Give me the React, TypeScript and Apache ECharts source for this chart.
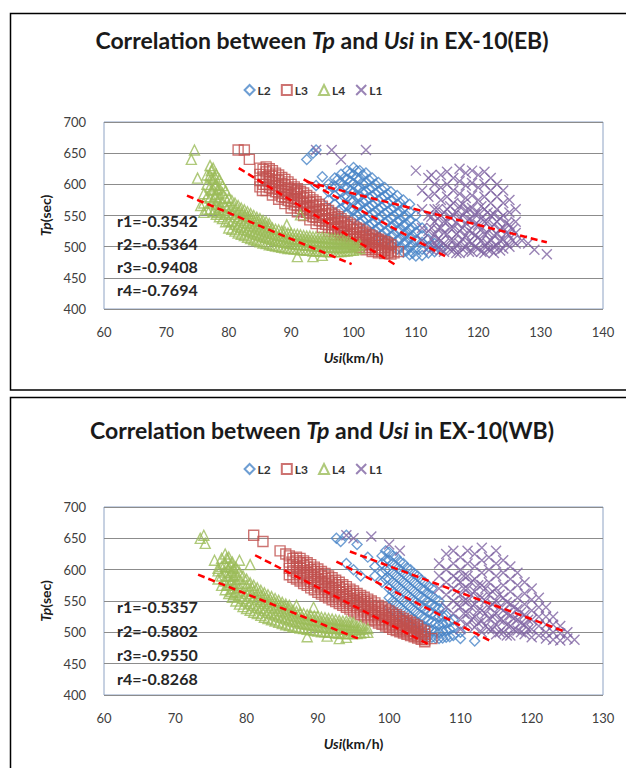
import React, { useEffect, useRef } from "react";
import * as echarts from "echarts";

const FONT = "Lato, 'Open Sans', sans-serif";

const seriesNames = ["L2", "L3", "L4", "L1"];
const yTicks = [400, 450, 500, 550, 600, 650, 700];
const xTicksEB = [60, 70, 80, 90, 100, 110, 120, 130, 140];
const xTicksWB = [60, 70, 80, 90, 100, 110, 120, 130];

const rLabelsEB = ["r1=-0.3542", "r2=-0.5364", "r3=-0.9408", "r4=-0.7694"];
const rLabelsWB = ["r1=-0.5357", "r2=-0.5802", "r3=-0.9550", "r4=-0.8268"];

// Each row: [Usi, Tp, Tp, ...] (points sharing one Usi value)
const ebL2 = [
  [92.5, 640], [93.5, 650], [94, 655, 598], [95, 612], [96.5, 596], [97.5, 608],
  [96, 575, 588, 600],
  [97, 568, 582, 596, 610],
  [98, 560, 574, 588, 602, 616],
  [98.5, 565, 580, 595, 610],
  [99, 552, 566, 580, 594, 608, 622],
  [99.5, 560, 575, 590, 605, 618],
  [100, 545, 559, 573, 587, 601, 615, 627],
  [100.5, 550, 565, 580, 595, 610, 622],
  [101, 538, 552, 566, 580, 594, 608, 622],
  [101.5, 542, 557, 572, 587, 601, 615],
  [102, 530, 545, 560, 574, 588, 602, 618],
  [102.5, 533, 548, 563, 578, 592, 607],
  [103, 522, 537, 552, 567, 581, 595, 610],
  [103.5, 525, 540, 555, 570, 585, 600],
  [104, 515, 530, 545, 560, 574, 588, 603],
  [104.5, 518, 533, 548, 563, 578, 592],
  [105, 508, 523, 538, 553, 567, 581, 595],
  [105.5, 511, 526, 541, 556, 570, 584],
  [106, 502, 516, 531, 546, 560, 574, 588],
  [106.5, 504, 519, 534, 549, 563, 577],
  [107, 496, 510, 525, 540, 554, 568, 582],
  [107.5, 498, 512, 527, 542, 556, 570],
  [108, 491, 505, 519, 534, 548, 562, 575],
  [108.5, 493, 507, 521, 536, 550],
  [109, 487, 500, 514, 528, 542, 556, 568],
  [109.5, 490, 503, 517, 531],
  [110, 485, 497, 510, 523, 536, 550],
  [111, 486, 496, 507, 518, 530],
  [112, 490, 500, 512],
  [113, 492, 505],
  [114, 495],
];
const ebL3 = [
  [81.5, 655], [82.5, 655], [83.3, 640],
  [85, 596, 606, 616, 626],
  [85.4, 590],
  [85.5, 600, 612, 624],
  [86, 590, 600, 610, 620, 628],
  [86.5, 595, 605, 615, 625],
  [87, 583, 593, 603, 613, 622],
  [87.5, 588, 598, 608, 618],
  [88, 576, 586, 596, 606, 615],
  [88.5, 580, 591, 601, 611],
  [89, 569, 579, 589, 599, 608],
  [89.5, 574, 584, 594, 604],
  [90, 562, 572, 582, 592, 600],
  [90.5, 567, 577, 587, 596],
  [90.8, 590],
  [91, 556, 566, 576, 585, 593],
  [91.5, 561, 571, 580, 589],
  [92, 550, 560, 569, 578, 586],
  [92.5, 555, 564, 573, 582],
  [93, 543, 553, 562, 571, 579],
  [93.5, 548, 557, 566, 575],
  [94, 537, 547, 556, 565, 572],
  [94.5, 542, 551, 560, 568],
  [95, 531, 541, 550, 558, 565],
  [95.5, 536, 545, 553, 561],
  [96, 525, 535, 543, 551, 558],
  [96.5, 530, 539, 547, 554],
  [97, 519, 528, 537, 544, 551],
  [97.5, 524, 533, 540, 548],
  [98, 513, 522, 531, 538, 545],
  [98.5, 518, 527, 534, 541],
  [99, 508, 517, 525, 532, 539],
  [99.5, 512, 521, 528, 536],
  [100, 503, 512, 520, 527, 533],
  [100.5, 507, 516, 523, 530],
  [101, 499, 507, 515, 522, 528],
  [101.5, 503, 511, 518, 525],
  [102, 495, 503, 510, 516, 522],
  [102.5, 498, 506, 513, 519],
  [103, 492, 499, 506, 512, 517],
  [103.5, 495, 502, 509, 514],
  [104, 490, 496, 502, 508, 512],
  [104.5, 492, 498, 504, 510],
  [105, 489, 494, 499, 504, 508],
  [105.5, 490, 496, 501, 506],
  [106, 488, 493, 498, 503],
  [106.5, 490], [107.2, 492],
];
const ebL4 = [
  [74, 640], [74.5, 655], [75, 610], [75.5, 566],
  [76, 555, 570, 585],
  [76.5, 560, 580, 600, 615],
  [77, 560, 578, 596, 614, 630],
  [77.2, 570, 590, 610, 622],
  [77.5, 556, 574, 592, 610, 626],
  [77.8, 560, 580, 598, 612],
  [78, 552, 568, 584, 600, 616],
  [78.2, 555, 575, 592],
  [78.5, 548, 560, 563, 578, 594, 608],
  [79, 545, 558, 572, 586, 598],
  [79.5, 540, 552, 565, 578, 590],
  [80, 530, 542, 555, 567, 578],
  [80.5, 528, 540, 552, 564, 574],
  [81, 525, 536, 548, 560, 570],
  [81.5, 522, 533, 545, 556, 566],
  [82, 520, 531, 542, 553, 562],
  [82.5, 518, 528, 539, 550, 559],
  [83, 515, 526, 537, 548, 556],
  [83.5, 513, 524, 534, 545, 553],
  [84, 511, 522, 532, 542, 550],
  [84.5, 510, 520, 530, 540, 547],
  [85, 508, 518, 528, 537, 545],
  [85.5, 506, 516, 526, 535, 542],
  [86, 505, 515, 524, 533, 540],
  [86.5, 503, 513, 522, 531, 537],
  [87, 502, 512, 521, 530],
  [87.5, 501, 510, 519, 528],
  [88, 500, 509, 518, 527],
  [88.5, 499, 508, 517, 525],
  [89, 498, 507, 516, 524],
  [89.3, 535],
  [89.5, 497, 506, 514, 522],
  [90, 497, 505, 513, 521],
  [90.5, 496, 504, 512, 520],
  [91, 484, 496, 504, 512, 520],
  [91.5, 495, 503, 511, 519, 551],
  [92, 495, 503, 511, 518],
  [92.5, 494, 502, 510, 517],
  [93, 494, 502, 510, 517],
  [93.5, 484, 493, 501, 509, 516],
  [94, 493, 501, 509, 516],
  [94.5, 493, 500, 508, 515],
  [95, 486, 493, 500, 508, 515],
  [95.5, 492, 499, 507, 514],
  [96, 492, 499, 507, 514],
  [96.5, 492, 499, 506, 513],
  [97, 492, 499, 506, 513],
  [97.5, 492, 498, 505, 512],
  [98, 492, 498, 505, 512],
  [98.5, 493, 499, 505, 511],
  [99, 493, 499, 505, 511],
  [99.5, 494, 500, 506],
  [100, 494, 500, 506],
  [100.5, 496, 502],
  [101, 497, 503],
];
const ebL1 = [
  [94, 655], [96.5, 655], [98, 640], [102, 655], [110, 622], [112.5, 615],
  [111, 590, 560, 530, 510],
  [112, 610, 580, 550, 525, 500],
  [112.5, 495, 512, 530, 548],
  [113, 600, 585, 560, 540, 520, 505],
  [113.5, 498, 512, 528, 545, 560],
  [114, 615, 595, 575, 550, 530, 510, 495],
  [114.5, 492, 505, 522, 540, 555],
  [115, 620, 600, 580, 560, 540, 520, 500],
  [115.5, 495, 510, 530, 548, 565],
  [116, 610, 590, 570, 550, 530, 510, 495],
  [116.5, 490, 502, 520, 538, 555],
  [117, 625, 605, 585, 565, 545, 525, 505, 490],
  [117.5, 496, 512, 530, 550, 568],
  [118, 618, 598, 578, 558, 538, 518, 500],
  [118.5, 492, 508, 526, 544, 560],
  [119, 622, 602, 582, 562, 542, 522, 505, 492],
  [119.5, 500, 518, 535, 552],
  [120, 615, 595, 575, 555, 535, 515, 497],
  [120.5, 492, 510, 528, 546, 565],
  [121, 620, 600, 580, 560, 540, 520, 502, 490],
  [121.5, 496, 505, 522, 540, 555],
  [122, 610, 590, 570, 550, 530, 510, 495],
  [122.5, 490, 500, 518, 535, 552],
  [123, 600, 580, 560, 540, 520, 502],
  [123.5, 494, 510, 528, 545],
  [124, 590, 570, 550, 530, 512, 497],
  [124.5, 505, 522, 538],
  [125, 575, 555, 535, 518, 500],
  [125.5, 510, 528],
  [126, 560, 540, 522, 505],
  [127, 510], [128, 505], [129, 495], [131, 488],
];

const wbL2 = [
  [92.6, 650], [93.2, 645], [94, 655, 610], [95.5, 640], [95, 600], [96, 590], [97, 620], [99.5, 630],
  [98, 590, 605],
  [99, 580, 595, 610, 622],
  [99.5, 585, 600, 615],
  [100, 540, 555, 570, 585, 600, 615, 628],
  [100.5, 535, 550, 565, 580, 595, 610, 622],
  [101, 530, 545, 560, 575, 590, 605, 620],
  [101.5, 525, 540, 555, 570, 585, 600, 613],
  [102, 520, 535, 550, 565, 580, 595, 610],
  [102.5, 515, 530, 545, 560, 575, 590, 603],
  [103, 510, 525, 540, 555, 570, 585, 600],
  [103.5, 505, 520, 535, 550, 565, 580, 594],
  [104, 500, 515, 530, 545, 560, 575, 590],
  [104.5, 497, 511, 526, 541, 556, 570, 584],
  [105, 495, 508, 522, 537, 552, 567, 580],
  [105.5, 493, 505, 519, 533, 548, 562, 574],
  [106, 492, 503, 516, 530, 545, 558, 570],
  [106.5, 491, 501, 514, 527, 541, 553],
  [107, 490, 500, 512, 525, 538, 550],
  [107.5, 491, 502, 514, 526, 538],
  [108, 492, 503, 515, 527],
  [108.5, 493, 505, 517],
  [109, 495, 508, 520],
  [110, 490, 500],
  [112, 486],
];
const wbL3 = [
  [81, 655], [82.3, 645], [84.7, 630], [85.5, 625],
  [86, 592, 602, 612, 622],
  [86.5, 588, 598, 608, 618],
  [87, 585, 595, 605, 614, 620],
  [87.5, 582, 592, 602, 611, 618],
  [88, 578, 588, 598, 607, 614],
  [88.5, 575, 585, 595, 604, 611],
  [89, 571, 581, 591, 600, 608],
  [89.5, 568, 578, 588, 597, 604],
  [90, 564, 574, 584, 593, 601],
  [90.5, 561, 571, 580, 590, 597],
  [91, 558, 568, 577, 586, 594],
  [91.5, 555, 564, 573, 582, 590],
  [92, 552, 561, 570, 579, 587],
  [92.5, 549, 558, 567, 576, 583],
  [93, 546, 555, 564, 572, 580],
  [93.5, 543, 552, 560, 569, 576],
  [94, 540, 549, 557, 565, 573],
  [94.5, 537, 546, 554, 562, 569],
  [95, 534, 543, 551, 559, 566],
  [95.5, 531, 540, 548, 555, 562],
  [96, 528, 537, 545, 552, 559],
  [96.5, 526, 534, 542, 549, 556],
  [97, 523, 531, 539, 546, 553],
  [97.5, 520, 528, 536, 543, 550],
  [98, 518, 526, 533, 540, 547],
  [98.5, 515, 523, 530, 537, 543],
  [99, 513, 520, 527, 534, 540],
  [99.5, 510, 518, 524, 531, 537],
  [100, 508, 515, 522, 528, 534],
  [100.5, 505, 512, 519, 525, 531],
  [101, 503, 510, 516, 522, 528],
  [101.5, 501, 507, 513, 519, 525],
  [102, 499, 505, 511, 517, 522],
  [102.5, 497, 503, 508, 514, 519],
  [103, 495, 501, 506, 511, 516],
  [103.5, 493, 498, 503, 508, 513],
  [104, 491, 496, 501, 506, 510],
  [104.5, 489, 494, 499, 504],
  [105, 485, 488, 493, 497, 502],
  [106, 490],
];
const wbL4 = [
  [73.5, 650], [74, 655], [74.2, 642], [75.5, 615], [76, 602],
  [76, 585, 598],
  [76.5, 575, 590, 605, 618],
  [77, 568, 582, 596, 610, 625],
  [77.2, 575, 590, 605, 618],
  [77.5, 562, 576, 590, 604, 620],
  [77.8, 565, 580, 595, 608],
  [78, 556, 570, 584, 598, 612],
  [78.2, 560, 575, 590, 602],
  [78.5, 550, 564, 578, 592, 604],
  [79, 545, 558, 572, 585, 596, 615],
  [79.5, 541, 554, 566, 578, 590],
  [80, 538, 550, 562, 574, 585],
  [80.5, 535, 546, 558, 569, 579, 608],
  [81, 532, 543, 555, 566, 575],
  [81.5, 530, 540, 552, 562, 571],
  [82, 527, 538, 549, 559, 567],
  [82.5, 524, 535, 546, 555, 563],
  [83, 522, 532, 543, 552, 560],
  [83.5, 520, 530, 540, 549, 557],
  [84, 518, 528, 538, 547, 554],
  [84.5, 516, 526, 535, 544, 551],
  [85, 514, 524, 533, 542, 548],
  [85.5, 512, 522, 531, 539, 545],
  [86, 511, 520, 529, 537, 543],
  [86.5, 509, 518, 527, 535],
  [87, 508, 517, 525, 533, 543],
  [87.5, 507, 515, 523, 531],
  [88, 506, 514, 522, 530],
  [88.5, 493, 505, 513, 521, 528],
  [89, 504, 512, 520, 527],
  [89.4, 540],
  [89.5, 503, 511, 519, 526],
  [90, 502, 510, 518, 525],
  [90.5, 501, 509, 517, 524],
  [91, 501, 508, 516, 523],
  [91.3, 494],
  [91.5, 500, 507, 515, 522],
  [92, 500, 507, 514, 521],
  [92.5, 499, 506, 513, 520],
  [93, 490, 499, 506, 513, 519],
  [93.5, 498, 505, 512, 518],
  [94, 492, 498, 505, 512, 518],
  [94.5, 498, 504, 511, 517],
  [95, 498, 504, 511, 516],
  [95.5, 498, 504, 510],
  [96, 499, 505, 511],
  [96.5, 500, 506],
  [97, 500, 506],
];
const wbL1 = [
  [94, 655], [95, 650], [97.5, 653], [100, 640], [101.5, 630],
  [107, 610, 590, 570],
  [108, 625, 600, 580, 560, 540],
  [109, 630, 610, 590, 570, 550, 530],
  [109.5, 545, 565, 585],
  [110, 620, 600, 580, 560, 540, 520, 505],
  [110.5, 530, 550, 570, 590],
  [111, 630, 610, 590, 570, 550, 530, 512],
  [111.5, 520, 540, 560, 580],
  [112, 625, 605, 585, 565, 545, 525, 508],
  [112.5, 515, 535, 555, 575],
  [113, 635, 615, 595, 575, 555, 535, 518, 500],
  [113.5, 510, 530, 550, 570],
  [114, 620, 600, 580, 560, 540, 522, 505],
  [114.5, 505, 525, 545, 565],
  [115, 630, 610, 590, 570, 550, 530, 512, 497],
  [115.5, 500, 520, 540, 560],
  [116, 615, 595, 575, 555, 535, 518, 500],
  [116.5, 495, 512, 530, 548],
  [117, 605, 585, 565, 545, 527, 510, 495],
  [117.5, 505, 522, 540],
  [118, 595, 575, 555, 537, 520, 503],
  [118.5, 500, 515, 532],
  [119, 580, 562, 545, 528, 512, 497],
  [119.5, 505, 520],
  [120, 570, 552, 535, 520, 505, 492],
  [121, 555, 540, 525, 510, 495],
  [122, 540, 525, 512, 500, 490],
  [123, 525, 512, 500, 488],
  [124, 510, 498, 487],
  [125, 500, 490],
  [126, 488],
];

// Linear trend lines (start, end)
const ebTrendL2 = [[92, 608], [115, 483]];
const ebTrendL3 = [[81.6, 626], [106.7, 471]];
const ebTrendL4 = [[73.3, 582], [99.7, 472]];
const ebTrendL1 = [[92.5, 604], [131, 507]];
const wbTrendL2 = [[92.6, 613], [114.4, 485]];
const wbTrendL3 = [[81.2, 623], [105.5, 481]];
const wbTrendL4 = [[73.2, 592], [96.1, 488]];
const wbTrendL1 = [[94.5, 629], [124.7, 501]];

const COLORS: Record<string, string> = { L2: "#4A86C8", L3: "#C0504D", L4: "#9BBB59", L1: "#8064A2" };
const SYMBOLS: Record<string, string> = {
  L2: "diamond",
  L3: "rect",
  L4: "triangle",
  L1: "path://M0,0L10,10M10,0L0,10",
};

function expand(cols: number[][]) {
  return cols.flatMap(([x, ...ys]) => ys.map((y) => [x, y]));
}

function scatter(name: string, cols: number[][], idx: number) {
  return {
    type: "scatter",
    name,
    xAxisIndex: idx,
    yAxisIndex: idx,
    data: expand(cols),
    symbol: SYMBOLS[name],
    symbolSize: 10,
    itemStyle: { color: "rgba(0,0,0,0)", borderColor: COLORS[name], borderWidth: 1.4 },
    silent: true,
    z: 2,
  };
}

function trend(data: number[][], idx: number) {
  return {
    type: "line",
    name: "trend",
    xAxisIndex: idx,
    yAxisIndex: idx,
    data,
    symbol: "none",
    lineStyle: { color: "#FF0000", width: 2.5, type: [7, 4] },
    silent: true,
    z: 5,
  };
}

const italic = (size: number) => ({
  fontStyle: "italic",
  fontWeight: "bold",
  fontSize: size,
  fontFamily: FONT,
  color: "#1a1a1a",
});

function xAxis(idx: number, ticks: number[]) {
  return {
    gridIndex: idx,
    type: "value",
    min: ticks[0],
    max: ticks[ticks.length - 1],
    interval: ticks[1] - ticks[0],
    name: "{i|Usi}(km/h)",
    nameLocation: "middle",
    nameGap: 41,
    nameTextStyle: { fontFamily: FONT, fontWeight: "bold", fontSize: 14, color: "#1a1a1a", rich: { i: italic(14) } },
    axisLine: { show: false },
    axisTick: { show: false },
    splitLine: { show: false },
    axisLabel: { fontFamily: FONT, fontSize: 13, color: "#404040", margin: 16 },
  };
}

function yAxis(idx: number) {
  return {
    gridIndex: idx,
    type: "value",
    min: yTicks[0],
    max: yTicks[yTicks.length - 1],
    interval: yTicks[1] - yTicks[0],
    name: "{i|Tp}(sec)",
    nameLocation: "middle",
    nameGap: 52,
    nameTextStyle: { fontFamily: FONT, fontWeight: "bold", fontSize: 14, color: "#1a1a1a", rich: { i: italic(14) } },
    axisLine: { show: false },
    axisTick: { show: false },
    splitLine: { show: true, lineStyle: { color: "#8C8C8C", width: 1 } },
    axisLabel: { fontFamily: FONT, fontSize: 13, color: "#404040", margin: 18 },
  };
}

function legend(top: number) {
  return {
    top,
    left: "center",
    data: seriesNames,
    itemWidth: 10,
    itemHeight: 10,
    itemGap: 10,
    selectedMode: false,
    textStyle: { fontFamily: FONT, fontWeight: "bold", fontSize: 12, color: "#333", padding: [0, 0, 0, -2] },
  };
}

function title(text: string, top: number) {
  return {
    text,
    left: 317,
    textAlign: "center",
    top,
    textStyle: { fontFamily: FONT, fontSize: 23, fontWeight: "bold", color: "#1a1a1a", rich: { i: italic(23) } },
  };
}

export default function App() {
  const ref = useRef<HTMLDivElement>(null);
  useEffect(() => {
    if (!ref.current) return;
    const chart = echarts.init(ref.current, undefined, { renderer: "svg" });
    const option = {
      animation: false,
      backgroundColor: "#fff",
      title: [
        title("Correlation between {i|Tp} and {i|Usi} in EX-10(EB)", 23),
        title("Correlation between {i|Tp} and {i|Usi} in EX-10(WB)", 413),
      ],
      legend: [legend(79), legend(458)],
      grid: [
        { left: 104, top: 122, width: 499, height: 187, show: true, borderColor: "#8EA3C4", borderWidth: 1, backgroundColor: "transparent" },
        { left: 104, top: 507, width: 499, height: 188, show: true, borderColor: "#8EA3C4", borderWidth: 1, backgroundColor: "transparent" },
      ],
      xAxis: [xAxis(0, xTicksEB), xAxis(1, xTicksWB)],
      yAxis: [yAxis(0), yAxis(1)],
      series: [
        scatter("L2", ebL2, 0),
        scatter("L3", ebL3, 0),
        scatter("L4", ebL4, 0),
        scatter("L1", ebL1, 0),
        trend(ebTrendL1, 0),
        trend(ebTrendL2, 0),
        trend(ebTrendL3, 0),
        trend(ebTrendL4, 0),
        scatter("L2", wbL2, 1),
        scatter("L3", wbL3, 1),
        scatter("L4", wbL4, 1),
        scatter("L1", wbL1, 1),
        trend(wbTrendL1, 1),
        trend(wbTrendL2, 1),
        trend(wbTrendL3, 1),
        trend(wbTrendL4, 1),
      ],
      graphic: [
        { type: "rect", silent: true, shape: { x: 10.5, y: 13.5, width: 640, height: 376.5 }, style: { fill: "none", stroke: "#000", lineWidth: 1.5 } },
        { type: "rect", silent: true, shape: { x: 10.5, y: 397.5, width: 640, height: 420 }, style: { fill: "none", stroke: "#000", lineWidth: 1.5 } },
        {
          type: "text", silent: true, x: 117, y: 209, z: 10,
          style: { text: rLabelsEB.join("\n"), fontFamily: FONT, fontWeight: "bold", fontSize: 16, lineHeight: 23, fill: "#262626" },
        },
        {
          type: "text", silent: true, x: 117, y: 594, z: 10,
          style: { text: rLabelsWB.join("\n"), fontFamily: FONT, fontWeight: "bold", fontSize: 16, lineHeight: 24, fill: "#262626" },
        },
      ],
    };
    chart.setOption(option as any);
    return () => chart.dispose();
  }, []);
  return (
    <div
      ref={ref}
      style={{ position: "absolute", left: 0, top: 0, width: 626, height: 768, background: "#fff" }}
    />
  );
}
